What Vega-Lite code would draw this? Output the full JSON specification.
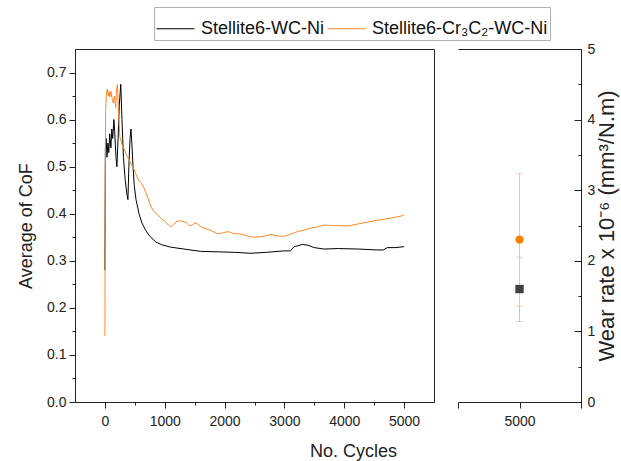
{
  "$schema": "https://vega.github.io/schema/vega-lite/v6.json",
  "background": "white",
  "padding": {"left": 17, "top": 6, "right": 2, "bottom": 5},
  "config": {
    "font": "Liberation Sans",
    "view": {"stroke": null},
    "axis": {
      "labelFont": "Liberation Sans", "titleFont": "Liberation Sans",
      "labelFontSize": 14, "titleFontSize": 18, "titleFontWeight": "normal",
      "labelColor": "#222", "titleColor": "#222", "domainColor": "#222", "tickColor": "#222",
      "grid": false, "domainWidth": 1, "tickWidth": 1
    }
  },
  "datasets": {
    "cof": [
      {"series": "Stellite6-WC-Ni", "cycles": 0, "cof": 0.28},
      {"series": "Stellite6-WC-Ni", "cycles": 8, "cof": 0.54},
      {"series": "Stellite6-WC-Ni", "cycles": 20, "cof": 0.56},
      {"series": "Stellite6-WC-Ni", "cycles": 35, "cof": 0.52},
      {"series": "Stellite6-WC-Ni", "cycles": 50, "cof": 0.55},
      {"series": "Stellite6-WC-Ni", "cycles": 65, "cof": 0.53},
      {"series": "Stellite6-WC-Ni", "cycles": 80, "cof": 0.57},
      {"series": "Stellite6-WC-Ni", "cycles": 100, "cof": 0.54},
      {"series": "Stellite6-WC-Ni", "cycles": 115, "cof": 0.58},
      {"series": "Stellite6-WC-Ni", "cycles": 130, "cof": 0.56},
      {"series": "Stellite6-WC-Ni", "cycles": 150, "cof": 0.60},
      {"series": "Stellite6-WC-Ni", "cycles": 165, "cof": 0.57},
      {"series": "Stellite6-WC-Ni", "cycles": 185, "cof": 0.52},
      {"series": "Stellite6-WC-Ni", "cycles": 200, "cof": 0.50},
      {"series": "Stellite6-WC-Ni", "cycles": 220, "cof": 0.56},
      {"series": "Stellite6-WC-Ni", "cycles": 240, "cof": 0.63},
      {"series": "Stellite6-WC-Ni", "cycles": 265, "cof": 0.675},
      {"series": "Stellite6-WC-Ni", "cycles": 285, "cof": 0.60},
      {"series": "Stellite6-WC-Ni", "cycles": 310, "cof": 0.52},
      {"series": "Stellite6-WC-Ni", "cycles": 340, "cof": 0.47},
      {"series": "Stellite6-WC-Ni", "cycles": 370, "cof": 0.44},
      {"series": "Stellite6-WC-Ni", "cycles": 385, "cof": 0.43},
      {"series": "Stellite6-WC-Ni", "cycles": 400, "cof": 0.50},
      {"series": "Stellite6-WC-Ni", "cycles": 420, "cof": 0.56},
      {"series": "Stellite6-WC-Ni", "cycles": 435, "cof": 0.58},
      {"series": "Stellite6-WC-Ni", "cycles": 450, "cof": 0.55},
      {"series": "Stellite6-WC-Ni", "cycles": 470, "cof": 0.50},
      {"series": "Stellite6-WC-Ni", "cycles": 490, "cof": 0.46},
      {"series": "Stellite6-WC-Ni", "cycles": 520, "cof": 0.43},
      {"series": "Stellite6-WC-Ni", "cycles": 570, "cof": 0.40},
      {"series": "Stellite6-WC-Ni", "cycles": 620, "cof": 0.38},
      {"series": "Stellite6-WC-Ni", "cycles": 680, "cof": 0.365},
      {"series": "Stellite6-WC-Ni", "cycles": 750, "cof": 0.352},
      {"series": "Stellite6-WC-Ni", "cycles": 850, "cof": 0.34},
      {"series": "Stellite6-WC-Ni", "cycles": 950, "cof": 0.334},
      {"series": "Stellite6-WC-Ni", "cycles": 1100, "cof": 0.329},
      {"series": "Stellite6-WC-Ni", "cycles": 1320, "cof": 0.325},
      {"series": "Stellite6-WC-Ni", "cycles": 1600, "cof": 0.32},
      {"series": "Stellite6-WC-Ni", "cycles": 1900, "cof": 0.319},
      {"series": "Stellite6-WC-Ni", "cycles": 2160, "cof": 0.318},
      {"series": "Stellite6-WC-Ni", "cycles": 2440, "cof": 0.316},
      {"series": "Stellite6-WC-Ni", "cycles": 2700, "cof": 0.318},
      {"series": "Stellite6-WC-Ni", "cycles": 2990, "cof": 0.321},
      {"series": "Stellite6-WC-Ni", "cycles": 3100, "cof": 0.321},
      {"series": "Stellite6-WC-Ni", "cycles": 3160, "cof": 0.330},
      {"series": "Stellite6-WC-Ni", "cycles": 3230, "cof": 0.332},
      {"series": "Stellite6-WC-Ni", "cycles": 3300, "cof": 0.335},
      {"series": "Stellite6-WC-Ni", "cycles": 3390, "cof": 0.333},
      {"series": "Stellite6-WC-Ni", "cycles": 3500, "cof": 0.328},
      {"series": "Stellite6-WC-Ni", "cycles": 3660, "cof": 0.325},
      {"series": "Stellite6-WC-Ni", "cycles": 3900, "cof": 0.326},
      {"series": "Stellite6-WC-Ni", "cycles": 4230, "cof": 0.325},
      {"series": "Stellite6-WC-Ni", "cycles": 4560, "cof": 0.323},
      {"series": "Stellite6-WC-Ni", "cycles": 4650, "cof": 0.323},
      {"series": "Stellite6-WC-Ni", "cycles": 4720, "cof": 0.328},
      {"series": "Stellite6-WC-Ni", "cycles": 4850, "cof": 0.328},
      {"series": "Stellite6-WC-Ni", "cycles": 5000, "cof": 0.330},
      {"series": "Stellite6-Cr₃C₂-WC-Ni", "cycles": 0, "cof": 0.14},
      {"series": "Stellite6-Cr₃C₂-WC-Ni", "cycles": 5, "cof": 0.45},
      {"series": "Stellite6-Cr₃C₂-WC-Ni", "cycles": 12, "cof": 0.62},
      {"series": "Stellite6-Cr₃C₂-WC-Ni", "cycles": 25, "cof": 0.655},
      {"series": "Stellite6-Cr₃C₂-WC-Ni", "cycles": 40, "cof": 0.665},
      {"series": "Stellite6-Cr₃C₂-WC-Ni", "cycles": 55, "cof": 0.65},
      {"series": "Stellite6-Cr₃C₂-WC-Ni", "cycles": 70, "cof": 0.66},
      {"series": "Stellite6-Cr₃C₂-WC-Ni", "cycles": 85, "cof": 0.648},
      {"series": "Stellite6-Cr₃C₂-WC-Ni", "cycles": 100, "cof": 0.66},
      {"series": "Stellite6-Cr₃C₂-WC-Ni", "cycles": 120, "cof": 0.645},
      {"series": "Stellite6-Cr₃C₂-WC-Ni", "cycles": 140, "cof": 0.635},
      {"series": "Stellite6-Cr₃C₂-WC-Ni", "cycles": 160, "cof": 0.65},
      {"series": "Stellite6-Cr₃C₂-WC-Ni", "cycles": 180, "cof": 0.625},
      {"series": "Stellite6-Cr₃C₂-WC-Ni", "cycles": 195, "cof": 0.665},
      {"series": "Stellite6-Cr₃C₂-WC-Ni", "cycles": 210, "cof": 0.675},
      {"series": "Stellite6-Cr₃C₂-WC-Ni", "cycles": 225, "cof": 0.62},
      {"series": "Stellite6-Cr₃C₂-WC-Ni", "cycles": 250, "cof": 0.563},
      {"series": "Stellite6-Cr₃C₂-WC-Ni", "cycles": 290, "cof": 0.545},
      {"series": "Stellite6-Cr₃C₂-WC-Ni", "cycles": 320, "cof": 0.538},
      {"series": "Stellite6-Cr₃C₂-WC-Ni", "cycles": 360, "cof": 0.525},
      {"series": "Stellite6-Cr₃C₂-WC-Ni", "cycles": 400, "cof": 0.516},
      {"series": "Stellite6-Cr₃C₂-WC-Ni", "cycles": 440, "cof": 0.505},
      {"series": "Stellite6-Cr₃C₂-WC-Ni", "cycles": 485, "cof": 0.495},
      {"series": "Stellite6-Cr₃C₂-WC-Ni", "cycles": 530, "cof": 0.48},
      {"series": "Stellite6-Cr₃C₂-WC-Ni", "cycles": 570, "cof": 0.47},
      {"series": "Stellite6-Cr₃C₂-WC-Ni", "cycles": 610, "cof": 0.465},
      {"series": "Stellite6-Cr₃C₂-WC-Ni", "cycles": 650, "cof": 0.455},
      {"series": "Stellite6-Cr₃C₂-WC-Ni", "cycles": 700, "cof": 0.44},
      {"series": "Stellite6-Cr₃C₂-WC-Ni", "cycles": 740, "cof": 0.425},
      {"series": "Stellite6-Cr₃C₂-WC-Ni", "cycles": 770, "cof": 0.415},
      {"series": "Stellite6-Cr₃C₂-WC-Ni", "cycles": 820, "cof": 0.405},
      {"series": "Stellite6-Cr₃C₂-WC-Ni", "cycles": 880, "cof": 0.397},
      {"series": "Stellite6-Cr₃C₂-WC-Ni", "cycles": 940, "cof": 0.39},
      {"series": "Stellite6-Cr₃C₂-WC-Ni", "cycles": 1000, "cof": 0.384},
      {"series": "Stellite6-Cr₃C₂-WC-Ni", "cycles": 1060, "cof": 0.376},
      {"series": "Stellite6-Cr₃C₂-WC-Ni", "cycles": 1100, "cof": 0.372},
      {"series": "Stellite6-Cr₃C₂-WC-Ni", "cycles": 1150, "cof": 0.378},
      {"series": "Stellite6-Cr₃C₂-WC-Ni", "cycles": 1190, "cof": 0.383},
      {"series": "Stellite6-Cr₃C₂-WC-Ni", "cycles": 1250, "cof": 0.385},
      {"series": "Stellite6-Cr₃C₂-WC-Ni", "cycles": 1300, "cof": 0.384},
      {"series": "Stellite6-Cr₃C₂-WC-Ni", "cycles": 1360, "cof": 0.381},
      {"series": "Stellite6-Cr₃C₂-WC-Ni", "cycles": 1400, "cof": 0.376},
      {"series": "Stellite6-Cr₃C₂-WC-Ni", "cycles": 1440, "cof": 0.374},
      {"series": "Stellite6-Cr₃C₂-WC-Ni", "cycles": 1480, "cof": 0.378},
      {"series": "Stellite6-Cr₃C₂-WC-Ni", "cycles": 1520, "cof": 0.381},
      {"series": "Stellite6-Cr₃C₂-WC-Ni", "cycles": 1600, "cof": 0.373},
      {"series": "Stellite6-Cr₃C₂-WC-Ni", "cycles": 1690, "cof": 0.368},
      {"series": "Stellite6-Cr₃C₂-WC-Ni", "cycles": 1780, "cof": 0.364},
      {"series": "Stellite6-Cr₃C₂-WC-Ni", "cycles": 1890, "cof": 0.357},
      {"series": "Stellite6-Cr₃C₂-WC-Ni", "cycles": 1980, "cof": 0.36},
      {"series": "Stellite6-Cr₃C₂-WC-Ni", "cycles": 2060, "cof": 0.362},
      {"series": "Stellite6-Cr₃C₂-WC-Ni", "cycles": 2150, "cof": 0.358},
      {"series": "Stellite6-Cr₃C₂-WC-Ni", "cycles": 2270, "cof": 0.357},
      {"series": "Stellite6-Cr₃C₂-WC-Ni", "cycles": 2400, "cof": 0.352},
      {"series": "Stellite6-Cr₃C₂-WC-Ni", "cycles": 2490, "cof": 0.35},
      {"series": "Stellite6-Cr₃C₂-WC-Ni", "cycles": 2650, "cof": 0.352},
      {"series": "Stellite6-Cr₃C₂-WC-Ni", "cycles": 2780, "cof": 0.356},
      {"series": "Stellite6-Cr₃C₂-WC-Ni", "cycles": 2880, "cof": 0.353},
      {"series": "Stellite6-Cr₃C₂-WC-Ni", "cycles": 2990, "cof": 0.352},
      {"series": "Stellite6-Cr₃C₂-WC-Ni", "cycles": 3110, "cof": 0.357},
      {"series": "Stellite6-Cr₃C₂-WC-Ni", "cycles": 3220, "cof": 0.362},
      {"series": "Stellite6-Cr₃C₂-WC-Ni", "cycles": 3350, "cof": 0.366},
      {"series": "Stellite6-Cr₃C₂-WC-Ni", "cycles": 3450, "cof": 0.37},
      {"series": "Stellite6-Cr₃C₂-WC-Ni", "cycles": 3560, "cof": 0.372},
      {"series": "Stellite6-Cr₃C₂-WC-Ni", "cycles": 3660, "cof": 0.376},
      {"series": "Stellite6-Cr₃C₂-WC-Ni", "cycles": 3800, "cof": 0.375},
      {"series": "Stellite6-Cr₃C₂-WC-Ni", "cycles": 4060, "cof": 0.374},
      {"series": "Stellite6-Cr₃C₂-WC-Ni", "cycles": 4300, "cof": 0.38},
      {"series": "Stellite6-Cr₃C₂-WC-Ni", "cycles": 4500, "cof": 0.385},
      {"series": "Stellite6-Cr₃C₂-WC-Ni", "cycles": 4700, "cof": 0.389},
      {"series": "Stellite6-Cr₃C₂-WC-Ni", "cycles": 4830, "cof": 0.392},
      {"series": "Stellite6-Cr₃C₂-WC-Ni", "cycles": 4950, "cof": 0.395},
      {"series": "Stellite6-Cr₃C₂-WC-Ni", "cycles": 5000, "cof": 0.398}
    ],
    "wear": [
      {"series": "Stellite6-WC-Ni", "cycles": 5000, "wear": 1.60, "lo": 1.14, "hi": 2.05},
      {"series": "Stellite6-Cr₃C₂-WC-Ni", "cycles": 5000, "wear": 2.30, "lo": 1.36, "hi": 3.24}
    ]
  },
  "spacing": 24,
  "bounds": "flush",
  "resolve": {"scale": {"color": "independent", "shape": "independent"}, "legend": {"color": "independent"}},
  "hconcat": [
    {
      "width": 359,
      "height": 353,
      "view": {"stroke": "#222", "strokeWidth": 1},
      "data": {"name": "cof"},
      "layer": [
        {
          "mark": {"type": "line", "strokeWidth": 1, "interpolate": "linear"},
          "encoding": {
            "x": {"field": "cycles", "type": "quantitative", "scale": {"domain": [-500, 5500], "nice": false, "zero": false},
              "axis": {"orient": "bottom", "values": [0, 1000, 2000, 3000, 4000, 5000], "format": "d", "tickSize": 6, "labelPadding": 6, "title": "No. Cycles", "titleX": 278, "titlePadding": 14}},
            "y": {"field": "cof", "type": "quantitative", "scale": {"domain": [0, 0.75], "nice": false},
              "axis": {"orient": "left", "values": [0, 0.1, 0.2, 0.3, 0.4, 0.5, 0.6, 0.7], "format": ".1f", "tickSize": 6, "labelPadding": 3, "title": "Average of CoF", "titlePadding": 11}},
            "color": {"field": "series", "type": "nominal",
              "scale": {"domain": ["Stellite6-WC-Ni", "Stellite6-Cr₃C₂-WC-Ni"], "range": ["#000000", "#ff8a26"]},
              "legend": {"orient": "none", "legendX": 79, "legendY": -42, "direction": "horizontal", "title": null,
                "strokeColor": "#b0b0b0", "padding": 2, "symbolType": "stroke", "symbolSize": 1444, "symbolStrokeWidth": 1,
                "labelFontSize": 18, "labelFont": "Liberation Sans", "labelColor": "#111", "labelLimit": 400, "columnPadding": 0, "labelOffset": 6}}
          }
        },
        {
          "mark": {"type": "line", "opacity": 0},
          "encoding": {
            "x": {"field": "cycles", "type": "quantitative",
              "axis": {"orient": "bottom", "values": [500, 1500, 2500, 3500, 4500], "tickSize": 3, "labels": false, "domain": false, "title": null}},
            "y": {"field": "cof", "type": "quantitative",
              "axis": {"orient": "left", "values": [0.05, 0.15, 0.25, 0.35, 0.45, 0.55, 0.65], "tickSize": 3, "labels": false, "domain": false, "title": null}},
            "detail": {"field": "series"}
          }
        }
      ],
      "resolve": {"axis": {"x": "independent", "y": "independent"}}
    },
    {
      "width": 123,
      "height": 353,
      "data": {"name": "wear"},
      "layer": [
        {
          "mark": {"type": "rule", "strokeWidth": 1},
          "encoding": {
            "x": {"field": "cycles", "type": "quantitative", "scale": {"domain": [4000, 6000], "nice": false, "zero": false},
              "axis": {"orient": "bottom", "values": [4000, 5000, 6000], "labelExpr": "datum.value == 5000 ? '5000' : ''", "tickSize": 6, "labelPadding": 6, "title": null}},
            "y": {"field": "lo", "type": "quantitative", "scale": {"domain": [0, 5], "nice": false},
              "axis": {"orient": "right", "values": [0, 1, 2, 3, 4, 5], "tickSize": -7, "labelPadding": 13, "title": "Wear rate x 10⁻⁶ (mm³/N.m)", "titleFontSize": 22, "titleAngle": -90, "titlePadding": 24}},
            "y2": {"field": "hi"},
            "color": {"field": "series", "type": "nominal", "scale": {"domain": ["Stellite6-WC-Ni", "Stellite6-Cr₃C₂-WC-Ni"], "range": ["#c4c4c4", "#ffbfa0"]}, "legend": null}
          }
        },
        {
          "mark": {"type": "tick", "orient": "horizontal", "size": 7, "thickness": 1},
          "encoding": {
            "x": {"field": "cycles", "type": "quantitative", "axis": null},
            "y": {"field": "hi", "type": "quantitative", "axis": null},
            "color": {"field": "series", "type": "nominal", "scale": {"domain": ["Stellite6-WC-Ni", "Stellite6-Cr₃C₂-WC-Ni"], "range": ["#c4c4c4", "#ffbfa0"]}, "legend": null}
          }
        },
        {
          "mark": {"type": "tick", "orient": "horizontal", "size": 7, "thickness": 1},
          "encoding": {
            "x": {"field": "cycles", "type": "quantitative", "axis": null},
            "y": {"field": "lo", "type": "quantitative", "axis": null},
            "color": {"field": "series", "type": "nominal", "scale": {"domain": ["Stellite6-WC-Ni", "Stellite6-Cr₃C₂-WC-Ni"], "range": ["#c4c4c4", "#ffbfa0"]}, "legend": null}
          }
        },
        {
          "mark": {"type": "point", "filled": true, "size": 70, "opacity": 1},
          "encoding": {
            "x": {"field": "cycles", "type": "quantitative", "axis": null},
            "y": {"field": "wear", "type": "quantitative", "axis": null},
            "shape": {"field": "series", "type": "nominal", "scale": {"domain": ["Stellite6-WC-Ni", "Stellite6-Cr₃C₂-WC-Ni"], "range": ["square", "circle"]}, "legend": null},
            "color": {"field": "series", "type": "nominal", "scale": {"domain": ["Stellite6-WC-Ni", "Stellite6-Cr₃C₂-WC-Ni"], "range": ["#404040", "#ff7f00"]}, "legend": null}
          }
        },
        {
          "mark": {"type": "point", "opacity": 0},
          "encoding": {
            "x": {"field": "cycles", "type": "quantitative",
              "axis": {"orient": "top", "ticks": false, "labels": false, "domain": true, "title": null}},
            "y": {"field": "wear", "type": "quantitative",
              "axis": {"orient": "right", "values": [0.5, 1.5, 2.5, 3.5, 4.5], "tickSize": -3, "labels": false, "domain": false, "title": null}}
          }
        }
      ],
      "resolve": {"axis": {"x": "independent", "y": "independent"}, "scale": {"color": "independent"}}
    }
  ]
}
